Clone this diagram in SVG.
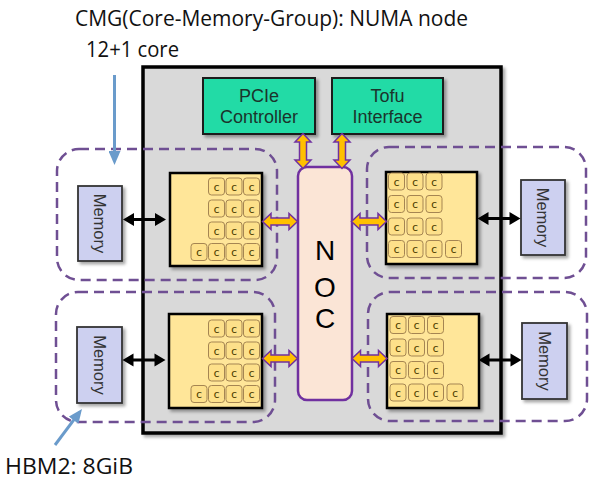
<svg xmlns="http://www.w3.org/2000/svg" width="599" height="480" viewBox="0 0 599 480">
<defs>
<filter id="sh" x="-10%" y="-10%" width="130%" height="130%"><feDropShadow dx="2.5" dy="2.5" stdDeviation="1.5" flood-color="#000" flood-opacity="0.35"/></filter>
<path id="oa" d="M-17.5 0 L-9 -8 L-9 -3.5 L9 -3.5 L9 -8 L17.5 0 L9 8 L9 3.5 L-9 3.5 L-9 8 Z"/>
<path id="ba" d="M-21.5 0 L-10.5 -6.5 L-10.5 -1.6 L10.5 -1.6 L10.5 -6.5 L21.5 0 L10.5 6.5 L10.5 1.6 L-10.5 1.6 L-10.5 6.5 Z"/>
<marker id="bh" viewBox="0 0 14 12" refX="10" refY="6" markerWidth="14" markerHeight="12" markerUnits="userSpaceOnUse" orient="auto"><path d="M0 0 L14 6 L0 12 Z" fill="#6a9bcb"/></marker>
<style>
.chip{fill:#d9d9d9;stroke:#000;stroke-width:3.5}
.dash{fill:none;stroke:#6f4f93;stroke-width:2.5;stroke-dasharray:10 6}
.green{fill:#22dba6;stroke:#1a1a1a;stroke-width:2}
.gl{font-family:"Liberation Sans",Arial,sans-serif;font-size:18px;fill:#1b342c;text-anchor:middle}
.noc{fill:#fbe5d6;stroke:#7030a0;stroke-width:2.5}
.nocl{font-family:"Liberation Sans",Arial,sans-serif;font-size:28px;fill:#000;text-anchor:middle}
.blk{fill:#ffe699;stroke:#000;stroke-width:2.5}
.cell{fill:#fde08a;stroke:#a58552;stroke-width:1}
.cl{font-family:Lato,"Open Sans",sans-serif;font-size:12px;fill:#4d3d00;text-anchor:middle}
.mem{fill:#cdd0f0;stroke:#333;stroke-width:1.8}
.ml{font-family:"Liberation Sans",Arial,sans-serif;font-size:16.5px;fill:#333;text-anchor:middle;dominant-baseline:central}
.oa{fill:#ffc000;stroke:#7030a0;stroke-width:1.5}
.ba{fill:#000}
.blue{stroke:#6a9bcb;stroke-width:3;fill:none;marker-end:url(#bh)}
.cap{font-family:"Open Sans",Lato,sans-serif;font-size:22px;fill:#111}
</style>
</defs>

<g id="chip"><rect class="chip" x="143" y="67" width="358" height="366" filter="url(#sh)"/></g>

<g id="cmg-regions">
<rect class="dash" x="57" y="149" width="220" height="131" rx="22"/>
<rect class="dash" x="367" y="147" width="219" height="131" rx="22"/>
<rect class="dash" x="56" y="292" width="219" height="130" rx="22"/>
<rect class="dash" x="368" y="292" width="219" height="129" rx="22"/>
</g>

<g id="pcie"><rect class="green" x="203" y="78" width="112" height="56" filter="url(#sh)"/>
<text class="gl" x="259" y="101.5">PCIe</text><text class="gl" x="259" y="123">Controller</text></g>

<g id="tofu"><rect class="green" x="332" y="78" width="111" height="56" filter="url(#sh)"/>
<text class="gl" x="387.5" y="101.5">Tofu</text><text class="gl" x="387.5" y="123">Interface</text></g>

<g id="noc"><rect class="noc" x="298" y="167" width="54" height="233" rx="9"/>
<text class="nocl" x="325" y="260">N</text><text class="nocl" x="325" y="297">O</text><text class="nocl" x="325" y="328">C</text></g>

<g id="cores-tl"><rect class="blk" x="170" y="173" width="92" height="93" filter="url(#sh)"/>
<rect class="cell" x="208.5" y="178" width="16" height="17" rx="3"/><rect class="cell" x="226" y="178" width="16" height="17" rx="3"/><rect class="cell" x="243.5" y="178" width="16" height="17" rx="3"/>
<rect class="cell" x="208.5" y="200" width="16" height="17" rx="3"/><rect class="cell" x="226" y="200" width="16" height="17" rx="3"/><rect class="cell" x="243.5" y="200" width="16" height="17" rx="3"/>
<rect class="cell" x="208.5" y="222" width="16" height="17" rx="3"/><rect class="cell" x="226" y="222" width="16" height="17" rx="3"/><rect class="cell" x="243.5" y="222" width="16" height="17" rx="3"/>
<rect class="cell" x="191" y="243.5" width="16" height="17" rx="3"/><rect class="cell" x="208.5" y="243.5" width="16" height="17" rx="3"/><rect class="cell" x="226" y="243.5" width="16" height="17" rx="3"/><rect class="cell" x="243.5" y="243.5" width="16" height="17" rx="3"/>
<text class="cl" x="216.5" y="190.5">c</text><text class="cl" x="234" y="190.5">c</text><text class="cl" x="251.5" y="190.5">c</text>
<text class="cl" x="216.5" y="212.5">c</text><text class="cl" x="234" y="212.5">c</text><text class="cl" x="251.5" y="212.5">c</text>
<text class="cl" x="216.5" y="234.5">c</text><text class="cl" x="234" y="234.5">c</text><text class="cl" x="251.5" y="234.5">c</text>
<text class="cl" x="199" y="256">c</text><text class="cl" x="216.5" y="256">c</text><text class="cl" x="234" y="256">c</text><text class="cl" x="251.5" y="256">c</text>
</g>

<g id="cores-bl"><rect class="blk" x="169" y="314" width="93" height="94" filter="url(#sh)"/>
<rect class="cell" x="208.5" y="320" width="16" height="17" rx="3"/><rect class="cell" x="226" y="320" width="16" height="17" rx="3"/><rect class="cell" x="243.5" y="320" width="16" height="17" rx="3"/>
<rect class="cell" x="208.5" y="342" width="16" height="17" rx="3"/><rect class="cell" x="226" y="342" width="16" height="17" rx="3"/><rect class="cell" x="243.5" y="342" width="16" height="17" rx="3"/>
<rect class="cell" x="208.5" y="364" width="16" height="17" rx="3"/><rect class="cell" x="226" y="364" width="16" height="17" rx="3"/><rect class="cell" x="243.5" y="364" width="16" height="17" rx="3"/>
<rect class="cell" x="191" y="385.5" width="16" height="17" rx="3"/><rect class="cell" x="208.5" y="385.5" width="16" height="17" rx="3"/><rect class="cell" x="226" y="385.5" width="16" height="17" rx="3"/><rect class="cell" x="243.5" y="385.5" width="16" height="17" rx="3"/>
<text class="cl" x="216.5" y="332.5">c</text><text class="cl" x="234" y="332.5">c</text><text class="cl" x="251.5" y="332.5">c</text>
<text class="cl" x="216.5" y="354.5">c</text><text class="cl" x="234" y="354.5">c</text><text class="cl" x="251.5" y="354.5">c</text>
<text class="cl" x="216.5" y="376.5">c</text><text class="cl" x="234" y="376.5">c</text><text class="cl" x="251.5" y="376.5">c</text>
<text class="cl" x="199" y="398">c</text><text class="cl" x="216.5" y="398">c</text><text class="cl" x="234" y="398">c</text><text class="cl" x="251.5" y="398">c</text>
</g>

<g id="cores-tr"><rect class="blk" x="386" y="172" width="91" height="92" filter="url(#sh)"/>
<rect class="cell" x="388.5" y="173" width="16" height="17" rx="3"/><rect class="cell" x="407" y="173" width="16" height="17" rx="3"/><rect class="cell" x="426" y="173" width="16" height="17" rx="3"/>
<rect class="cell" x="388.5" y="195.5" width="16" height="17" rx="3"/><rect class="cell" x="407" y="195.5" width="16" height="17" rx="3"/><rect class="cell" x="426" y="195.5" width="16" height="17" rx="3"/>
<rect class="cell" x="388.5" y="218" width="16" height="17" rx="3"/><rect class="cell" x="407" y="218" width="16" height="17" rx="3"/><rect class="cell" x="426" y="218" width="16" height="17" rx="3"/>
<rect class="cell" x="388.5" y="240.5" width="16" height="17" rx="3"/><rect class="cell" x="407" y="240.5" width="16" height="17" rx="3"/><rect class="cell" x="426" y="240.5" width="16" height="17" rx="3"/><rect class="cell" x="445.5" y="240.5" width="16" height="17" rx="3"/>
<text class="cl" x="396.5" y="185.5">c</text><text class="cl" x="415" y="185.5">c</text><text class="cl" x="434" y="185.5">c</text>
<text class="cl" x="396.5" y="208">c</text><text class="cl" x="415" y="208">c</text><text class="cl" x="434" y="208">c</text>
<text class="cl" x="396.5" y="230.5">c</text><text class="cl" x="415" y="230.5">c</text><text class="cl" x="434" y="230.5">c</text>
<text class="cl" x="396.5" y="253">c</text><text class="cl" x="415" y="253">c</text><text class="cl" x="434" y="253">c</text><text class="cl" x="453.5" y="253">c</text>
</g>

<g id="cores-br"><rect class="blk" x="387" y="314" width="92" height="94" filter="url(#sh)"/>
<rect class="cell" x="390" y="316.5" width="16" height="17" rx="3"/><rect class="cell" x="408.5" y="316.5" width="16" height="17" rx="3"/><rect class="cell" x="427.5" y="316.5" width="16" height="17" rx="3"/>
<rect class="cell" x="390" y="339" width="16" height="17" rx="3"/><rect class="cell" x="408.5" y="339" width="16" height="17" rx="3"/><rect class="cell" x="427.5" y="339" width="16" height="17" rx="3"/>
<rect class="cell" x="390" y="361.5" width="16" height="17" rx="3"/><rect class="cell" x="408.5" y="361.5" width="16" height="17" rx="3"/><rect class="cell" x="427.5" y="361.5" width="16" height="17" rx="3"/>
<rect class="cell" x="390" y="384" width="16" height="17" rx="3"/><rect class="cell" x="408.5" y="384" width="16" height="17" rx="3"/><rect class="cell" x="427.5" y="384" width="16" height="17" rx="3"/><rect class="cell" x="447" y="384" width="16" height="17" rx="3"/>
<text class="cl" x="398" y="329">c</text><text class="cl" x="416.5" y="329">c</text><text class="cl" x="435.5" y="329">c</text>
<text class="cl" x="398" y="351.5">c</text><text class="cl" x="416.5" y="351.5">c</text><text class="cl" x="435.5" y="351.5">c</text>
<text class="cl" x="398" y="374">c</text><text class="cl" x="416.5" y="374">c</text><text class="cl" x="435.5" y="374">c</text>
<text class="cl" x="398" y="396.5">c</text><text class="cl" x="416.5" y="396.5">c</text><text class="cl" x="435.5" y="396.5">c</text><text class="cl" x="455" y="396.5">c</text>
</g>

<g id="mem-tl"><rect class="mem" x="78" y="186" width="44" height="75" filter="url(#sh)"/><text class="ml" x="100" y="223.5" transform="rotate(90 100 223.5)">Memory</text></g>
<g id="mem-tr"><rect class="mem" x="521" y="180" width="44" height="75" filter="url(#sh)"/><text class="ml" x="543" y="217.5" transform="rotate(90 543 217.5)">Memory</text></g>
<g id="mem-bl"><rect class="mem" x="77" y="327" width="45" height="76" filter="url(#sh)"/><text class="ml" x="99.5" y="365" transform="rotate(90 99.5 365)">Memory</text></g>
<g id="mem-br"><rect class="mem" x="522" y="323" width="45" height="76" filter="url(#sh)"/><text class="ml" x="544.5" y="361" transform="rotate(90 544.5 361)">Memory</text></g>

<g id="connectors">
<use href="#oa" class="oa" transform="translate(280 221.5)"/>
<use href="#oa" class="oa" transform="translate(369 221.5)"/>
<use href="#oa" class="oa" transform="translate(280 358.5)"/>
<use href="#oa" class="oa" transform="translate(369.5 358.5)"/>
<use href="#oa" class="oa" transform="translate(303 151) rotate(90)"/>
<use href="#oa" class="oa" transform="translate(342 151) rotate(90)"/>
<use href="#ba" class="ba" transform="translate(144.5 219.5)"/>
<use href="#ba" class="ba" transform="translate(499 218.5)"/>
<use href="#ba" class="ba" transform="translate(144 360)"/>
<use href="#ba" class="ba" transform="translate(500 360)"/>
<line class="blue" x1="114.5" y1="75" x2="114.5" y2="161"/>
<line class="blue" x1="55" y1="445" x2="79.6" y2="412.2"/>
</g>

<g id="captions">
<text class="cap" x="75" y="26" textLength="393" lengthAdjust="spacingAndGlyphs">CMG(Core-Memory-Group): NUMA node</text>
<text class="cap" x="86" y="57" textLength="93" lengthAdjust="spacingAndGlyphs">12+1 core</text>
<text class="cap" x="5" y="474" textLength="128" lengthAdjust="spacingAndGlyphs">HBM2: 8GiB</text>
</g>
</svg>
